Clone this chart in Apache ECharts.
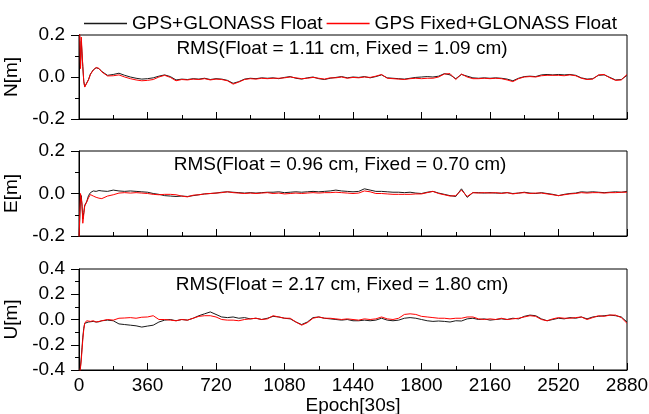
<!DOCTYPE html>
<html>
<head>
<meta charset="utf-8">
<script src="https://cdn.jsdelivr.net/npm/echarts@6/dist/echarts.min.js"></script>
<style>
  html, body { margin: 0; padding: 0; background: #fff; }
  #chart { width: 649px; height: 414px; }
</style>
</head>
<body>
<div id="chart"></div>
<script>
// Epoch index (30 s sampling) of every plotted point
const epochs = [
  0, 4, 8, 12, 16, 20, 25, 30, 40, 50, 60, 75, 90, 105,
  120, 150, 180, 210, 240, 270, 300, 330, 360, 390,
  420, 450, 480, 510, 540, 570, 600, 630, 660, 690,
  720, 750, 780, 810, 840, 870, 900, 930, 960, 990,
  1020, 1050, 1080, 1110, 1140, 1170, 1200, 1230, 1260, 1290,
  1320, 1350, 1380, 1410, 1440, 1470, 1500, 1530, 1560, 1590,
  1620, 1650, 1680, 1710, 1740, 1770, 1800, 1830, 1860, 1890,
  1920, 1950, 1980, 2010, 2040, 2070, 2100, 2130, 2160, 2190,
  2220, 2250, 2280, 2310, 2340, 2370, 2400, 2430, 2460, 2490,
  2520, 2550, 2580, 2610, 2640, 2670, 2700, 2730, 2760, 2790,
  2820, 2850, 2880
];

// North error [m]
const nFloat = [
  0.24, 0.19, 0.05, 0.17, 0.11, 0.05, -0.02, -0.046, -0.04, -0.012, 0.014, 0.034, 0.044, 0.04,
  0.026, 0.008, 0.012, 0.018, 0.008, 0.0, -0.006, -0.01, -0.008, -0.004,
  0.004, 0.01, 0.002, -0.014, -0.01, -0.012, -0.008, -0.01, -0.006, -0.012,
  -0.008, -0.01, -0.016, -0.03, -0.022, -0.01, -0.006, -0.008, -0.004, -0.006,
  -0.004, -0.008, -0.002, 0.002, -0.006, -0.01, -0.004, 0.0, -0.008, -0.012,
  -0.006, -0.002, 0.002, -0.004, 0.0, -0.002, 0.002, -0.004, 0.002, 0.01,
  -0.004, -0.006, -0.008, -0.01, -0.006, -0.002, 0.0, 0.002, 0.0, 0.004,
  0.016, 0.01, -0.008, 0.012, 0.004, -0.004, -0.006, -0.004, -0.006, -0.004,
  -0.006, -0.01, -0.018, -0.006, 0.002, 0.004, 0.002, 0.01, 0.012, 0.01,
  0.012, 0.01, 0.012, 0.008, -0.004, -0.01, -0.008, 0.008, 0.01, -0.002,
  -0.014, -0.012, 0.008
];
const nFixed = [
  0.26, 0.2, 0.04, 0.19, 0.12, 0.05, -0.02, -0.048, -0.042, -0.014, 0.012, 0.033, 0.045, 0.041,
  0.024, 0.005, 0.006, 0.01, 0.0, -0.008, -0.014, -0.018, -0.016, -0.012,
  0.0, 0.008, -0.002, -0.018, -0.012, -0.014, -0.01, -0.012, -0.008, -0.014,
  -0.01, -0.012, -0.018, -0.034, -0.024, -0.012, -0.008, -0.01, -0.006, -0.008,
  -0.006, -0.006, -0.004, 0.0, -0.004, -0.008, -0.006, -0.002, -0.006, -0.01,
  -0.004, -0.004, 0.0, -0.006, -0.002, -0.004, 0.0, -0.002, 0.004, 0.012,
  -0.006, -0.008, -0.01, -0.012, -0.008, -0.006, -0.008, -0.006, -0.006, 0.0,
  0.014, 0.016, -0.012, 0.014, 0.0, -0.008, -0.008, -0.006, -0.008, -0.006,
  -0.008, -0.014, -0.022, -0.008, 0.0, 0.002, 0.0, 0.006, 0.008, 0.008,
  0.008, 0.006, 0.01, 0.006, -0.006, -0.012, -0.01, 0.01, 0.012, -0.004,
  -0.016, -0.014, 0.012
];

// East error [m]
const eFloat = [
  -0.22, -0.12, -0.02, -0.01, -0.06, -0.12, -0.09, -0.055, -0.04, -0.01, 0.004, 0.012, 0.01, 0.014,
  0.012, 0.01, 0.016, 0.012, 0.01, 0.012, 0.01, 0.008, 0.006, 0.0,
  -0.004, -0.01, -0.012, -0.014, -0.012, -0.014, -0.01, -0.006, -0.002, 0.0,
  0.002, 0.006, 0.008, 0.006, 0.004, 0.002, 0.004, 0.002, 0.004, 0.006,
  0.006, 0.008, 0.004, 0.006, 0.008, 0.006, 0.008, 0.01, 0.008, 0.01,
  0.012, 0.016, 0.012, 0.01, 0.008, 0.01, 0.022, 0.016, 0.01, 0.01,
  0.008, 0.006, 0.006, 0.004, 0.006, 0.002, 0.0, 0.006, 0.01, 0.002,
  -0.004, -0.01, -0.014, 0.022, -0.018, 0.004, 0.004, 0.002, 0.004, 0.002,
  0.002, 0.004, 0.0, 0.002, 0.006, 0.002, 0.0, 0.004, 0.0, -0.004,
  -0.01, -0.004, 0.0, 0.002, 0.008, 0.006, 0.008, 0.006, 0.004, 0.006,
  0.008, 0.006, 0.01
];
const eFixed = [
  -0.22, -0.1, 0.0, 0.008, -0.05, -0.14, -0.1, -0.06, -0.04, -0.02, -0.005, -0.012, -0.018, -0.022,
  -0.024, -0.012, -0.006, 0.002, 0.004, 0.002, 0.004, 0.002, 0.0, -0.004,
  -0.006, -0.004, -0.004, -0.006, -0.012, -0.016, -0.008, -0.006, -0.002, 0.0,
  0.002, 0.004, 0.008, 0.004, 0.002, 0.0, 0.002, 0.0, 0.002, 0.004,
  0.0, 0.002, -0.002, 0.0, 0.002, 0.0, 0.002, 0.004, 0.002, 0.004,
  0.004, 0.006, 0.004, 0.002, 0.0, 0.002, 0.012, 0.008, 0.0, 0.0,
  -0.002, -0.004, -0.004, -0.004, -0.004, -0.002, -0.002, 0.004, 0.01, 0.0,
  -0.006, -0.012, -0.01, 0.016, -0.014, 0.004, 0.002, 0.004, 0.002, 0.004,
  0.0, 0.004, -0.002, 0.002, 0.004, 0.0, 0.002, 0.002, -0.002, -0.006,
  -0.01, -0.006, -0.002, 0.0, 0.004, 0.002, 0.004, 0.004, 0.002, 0.004,
  0.004, 0.006, 0.006
];

// Up error [m]
const uFloat = [
  -0.45, -0.42, -0.37, -0.3, -0.22, -0.14, -0.07, -0.03, -0.015, -0.02, -0.02, -0.015, -0.02, -0.018,
  -0.01, -0.005, -0.01, -0.035, -0.04, -0.045, -0.05, -0.06, -0.052, -0.045,
  -0.02, -0.005, 0.0, -0.01, 0.0, -0.005, 0.01, 0.03, 0.045, 0.06,
  0.04, 0.02, 0.015, 0.02, 0.01, 0.015, 0.005, 0.01, 0.0, 0.01,
  0.025, 0.02, 0.01, 0.005, -0.02, -0.04, -0.02, 0.015, 0.02, 0.01,
  0.005, 0.0, -0.005, 0.0, -0.01, -0.01, -0.005, -0.01, -0.005, 0.01,
  -0.005, -0.01, -0.005, 0.01, 0.015, 0.01, 0.0, -0.01, -0.015, -0.012,
  -0.015, -0.02, -0.01, -0.012, 0.005, 0.01, 0.0, 0.005, -0.005, 0.0,
  0.005, 0.0, 0.01, 0.005, 0.025, 0.035, 0.03, 0.005, -0.01, 0.0,
  0.01, 0.005, 0.015, 0.01, 0.02, 0.005, 0.02, 0.025, 0.03, 0.035,
  0.03, 0.02, -0.02
];
const uFixed = [
  -0.45, -0.42, -0.38, -0.32, -0.24, -0.16, -0.08, -0.03, -0.01, -0.02, -0.015, -0.01, -0.02, -0.015,
  -0.01, 0.0, -0.005, 0.01, 0.012, 0.015, 0.01, 0.018, 0.02, 0.03,
  0.0, 0.0, -0.005, -0.01, 0.0, -0.005, 0.01, 0.025, 0.03, 0.03,
  0.02, 0.0, -0.005, -0.005, -0.01, 0.0, 0.005, 0.01, 0.0, 0.005,
  0.03, 0.02, 0.01, 0.01, -0.02, -0.045, -0.025, 0.01, 0.02, 0.01,
  0.01, 0.005, 0.0, 0.005, 0.0, -0.005, 0.005, 0.0, 0.005, 0.02,
  0.005, 0.0, 0.01, 0.04, 0.045, 0.04, 0.025, 0.02, 0.015, 0.01,
  0.01, 0.005, 0.01, 0.01, 0.02, 0.02, 0.005, 0.0, 0.005, 0.0,
  0.01, 0.0, 0.005, 0.01, 0.02, 0.03, 0.025, 0.0, -0.01, 0.005,
  0.015, 0.01, 0.01, 0.015, 0.02, 0.0, 0.015, 0.03, 0.025, 0.035,
  0.035, 0.015, -0.03
];

const seriesNames = ['GPS+GLONASS Float', 'GPS Fixed+GLONASS Float'];
const panelNames = ['N[m]', 'E[m]', 'U[m]'];
const rmsLabels = [
  'RMS(Float = 1.11 cm, Fixed = 1.09 cm)',
  'RMS(Float = 0.96 cm, Fixed = 0.70 cm)',
  'RMS(Float = 2.17 cm, Fixed = 1.80 cm)'
];
const yRanges = [[-0.2, 0.2], [-0.2, 0.2], [-0.4, 0.4]];
const xTickStep = 360;
const xMax = 2880;
const xTitle = 'Epoch[30s]';

const FONT = '"Liberation Sans", Arial, sans-serif';
const panelData = [[nFloat, nFixed], [eFloat, eFixed], [uFloat, uFixed]];
const colors = ['#1a1a1a', '#ff0000'];

const gridBoxes = [
  { top: 35, height: 84 },
  { top: 151, height: 85 },
  { top: 269, height: 101 }
];
const rmsPos = [[342, 49], [340, 165], [342, 285]];

const pairs = (vals) => epochs.map((e, i) => [e, vals[i]]);

// Fixed plot rectangles; axis labels are allowed to reach the canvas edge
const grid = gridBoxes.map(b => ({
  left: 79, right: 22, top: b.top, height: b.height,
  outerBoundsMode: 'none', containLabel: false,
  show: true, borderColor: '#000', borderWidth: 1, backgroundColor: 'transparent'
}));

const xAxis = gridBoxes.map((b, i) => ({
  type: 'value', gridIndex: i, min: 0, max: xMax, interval: xTickStep,
  axisLine: { onZero: false, lineStyle: { color: '#000', width: 1 } },
  axisTick: { inside: true, length: 7, lineStyle: { color: '#000' } },
  minorTick: { show: true, splitNumber: 2, length: 4, lineStyle: { color: '#000' } },
  splitLine: { show: false },
  axisLabel: {
    show: i === 2, color: '#000', fontSize: 19, fontFamily: FONT, margin: 6,
    formatter: v => String(Math.round(v))
  },
  name: i === 2 ? xTitle : '',
  nameLocation: 'middle', nameGap: 26,
  nameTextStyle: { color: '#000', fontSize: 19, fontFamily: FONT }
}));

const yAxis = yRanges.map((r, i) => ({
  type: 'value', gridIndex: i, min: r[0], max: r[1], interval: 0.2,
  axisLine: { show: true, onZero: false, lineStyle: { color: '#000', width: 1 } },
  axisTick: { show: true, inside: false, length: 8, lineStyle: { color: '#000' } },
  minorTick: { show: true, splitNumber: 2, length: 4, lineStyle: { color: '#000' } },
  splitLine: { show: false },
  axisLabel: {
    color: '#000', fontSize: 19, fontFamily: FONT, margin: 14,
    formatter: v => (Math.abs(v) < 1e-9 ? 0 : v).toFixed(1)
  },
  name: panelNames[i], nameLocation: 'middle', nameGap: 47, nameRotate: 90,
  nameTextStyle: { color: '#000', fontSize: 19, fontFamily: FONT }
}));

const series = [];
panelData.forEach((pd, i) => {
  pd.forEach((vals, k) => {
    series.push({
      type: 'line', name: seriesNames[k], xAxisIndex: i, yAxisIndex: i,
      data: pairs(vals), symbol: 'none', showSymbol: false,
      lineStyle: { color: colors[k], width: 1 }, itemStyle: { color: colors[k] },
      z: 2 + k, clip: true
    });
  });
});

const graphic = rmsLabels.map((t, i) => ({
  type: 'text', x: rmsPos[i][0], y: rmsPos[i][1], z: 10,
  style: { text: t, fill: '#000', font: '19px ' + FONT, textAlign: 'center', textVerticalAlign: 'middle' }
}));

const chart = echarts.init(document.getElementById('chart'), null, { renderer: 'canvas' });
chart.setOption({
  animation: false,
  backgroundColor: '#fff',
  textStyle: { fontFamily: FONT },
  legend: {
    data: seriesNames.map((n, k) => ({
      name: n,
      icon: 'path://M0,0H43V1.4H0Z',
      itemStyle: { color: colors[k], borderWidth: 0, borderColor: colors[k] },
      lineStyle: { width: 0 }
    })),
    left: 79, top: 9, itemWidth: 43, itemHeight: 1.4, itemGap: 4,
    textStyle: { color: '#000', fontSize: 19, fontFamily: FONT }
  },
  grid, xAxis, yAxis, series, graphic
});
</script>
</body>
</html>
